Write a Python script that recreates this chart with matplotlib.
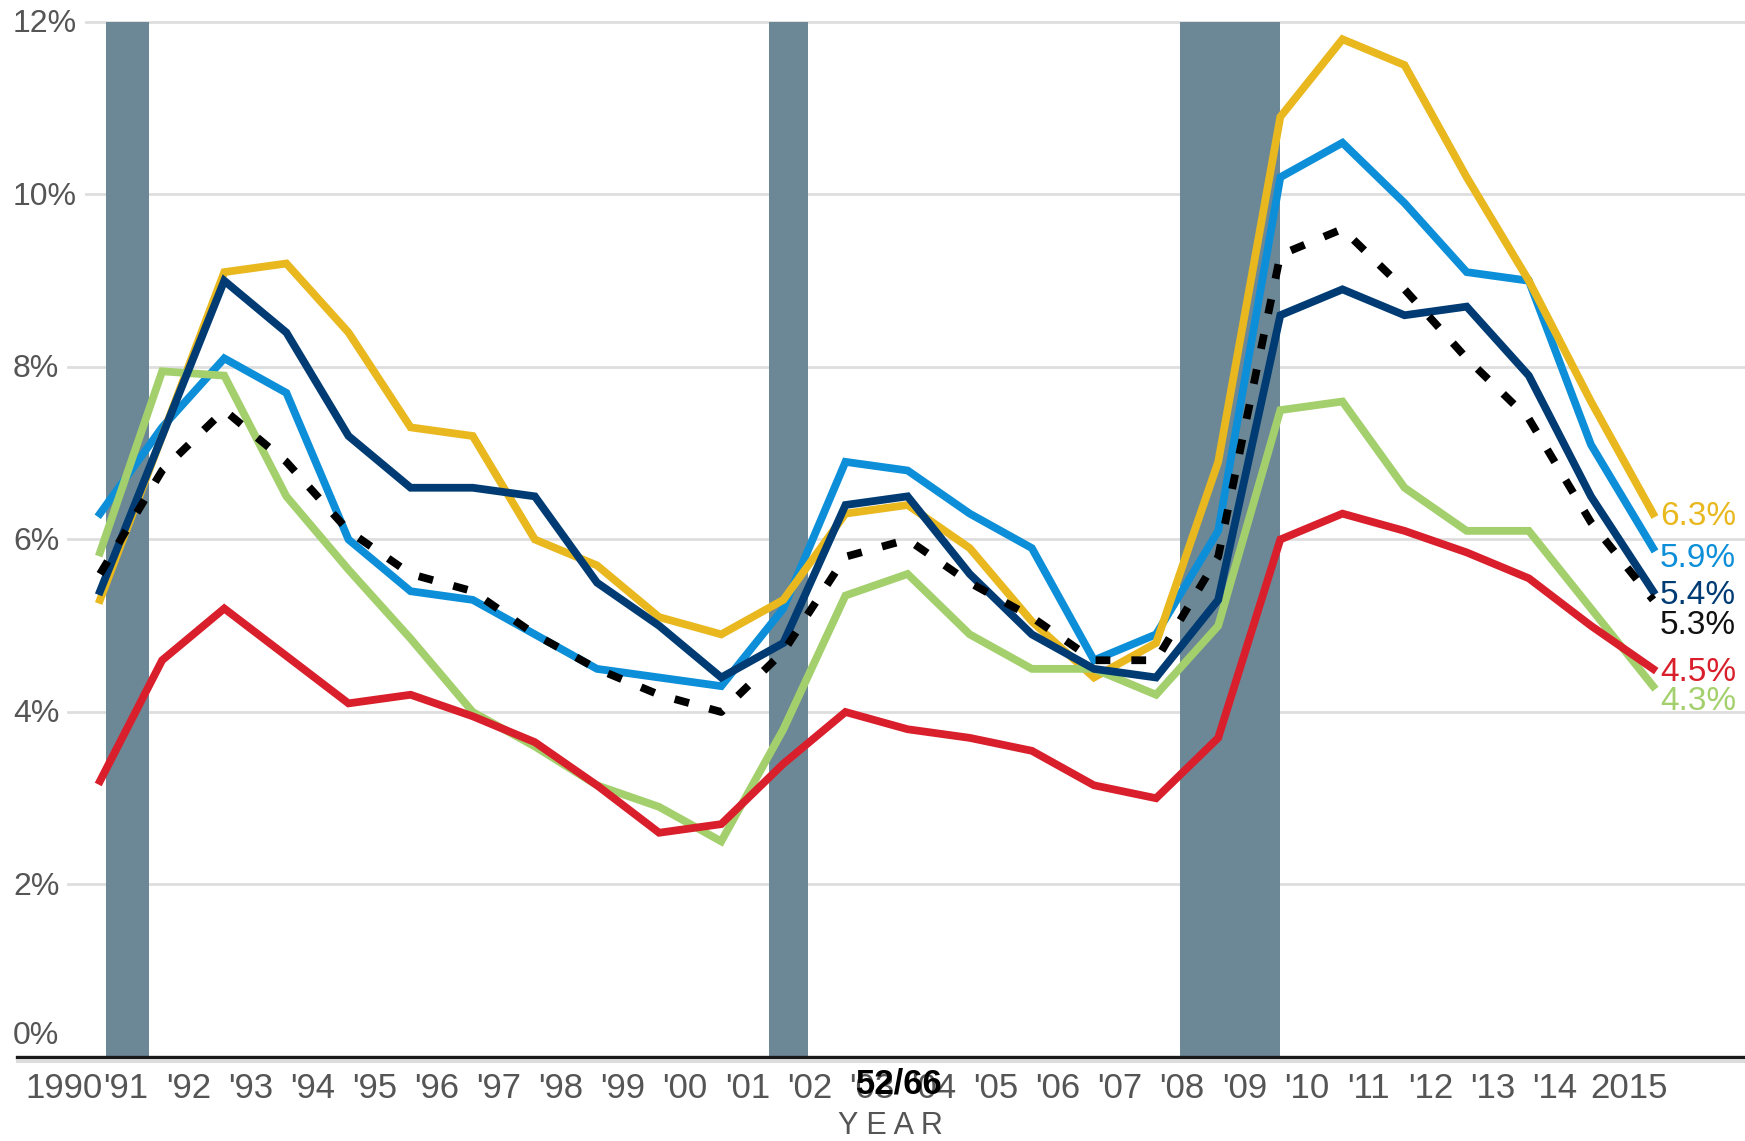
import matplotlib
matplotlib.use("Agg")
import matplotlib.pyplot as plt
from matplotlib import font_manager

# --- data (annual unemployment rate, %) ---
years = list(range(1990, 2016))
gold = [5.3, 7.2, 9.1, 9.2, 8.4, 7.3, 7.2, 6.0, 5.7, 5.1, 4.9, 5.3, 6.3, 6.4, 5.9, 5.05,
        4.4, 4.8, 6.9, 10.9, 11.8, 11.5, 10.2, 9.0, 7.6, 6.3]
blue = [6.3, 7.3, 8.1, 7.7, 6.0, 5.4, 5.3, 4.9, 4.5, 4.4, 4.3, 5.2, 6.9, 6.8, 6.3, 5.9,
        4.6, 4.9, 6.1, 10.2, 10.6, 9.9, 9.1, 9.0, 7.1, 5.9]
navy = [5.4, 7.2, 9.0, 8.4, 7.2, 6.6, 6.6, 6.5, 5.5, 5.0, 4.4, 4.8, 6.4, 6.5, 5.6, 4.9,
        4.5, 4.4, 5.3, 8.6, 8.9, 8.6, 8.7, 7.9, 6.5, 5.4]
overall = [5.6, 6.8, 7.5, 6.9, 6.1, 5.6, 5.4, 4.9, 4.5, 4.2, 4.0, 4.7, 5.8, 6.0, 5.5, 5.1,
           4.6, 4.6, 5.8, 9.3, 9.6, 8.9, 8.1, 7.4, 6.2, 5.3]
red = [3.2, 4.6, 5.2, 4.65, 4.1, 4.2, 3.95, 3.65, 3.15, 2.6, 2.7, 3.4, 4.0, 3.8, 3.7, 3.55,
       3.15, 3.0, 3.7, 6.0, 6.3, 6.1, 5.85, 5.55, 5.0, 4.5]
green = [5.85, 7.95, 7.9, 6.5, 5.65, 4.85, 4.0, 3.6, 3.15, 2.9, 2.5, 3.8, 5.35, 5.6, 4.9, 4.5,
         4.5, 4.2, 5.0, 7.5, 7.6, 6.6, 6.1, 6.1, 5.2, 4.3]

# recession periods (in chart year units)
recessions = [(1990.10, 1990.79), (2000.77, 2001.40), (2007.39, 2009.00)]

y_ticks = [0, 2, 4, 6, 8, 10, 12]
x_labels = ["1990"] + ["'%02d" % (y % 100) for y in years[1:-1]] + ["2015"]

# --- fonts ---
def pick_font(names):
    for n in names:
        try:
            font_manager.findfont(font_manager.FontProperties(family=n),
                                  fallback_to_default=False)
            return n
        except Exception:
            continue
    return "DejaVu Sans"

FONT = pick_font(["Liberation Sans Narrow", "Liberation Sans", "DejaVu Sans"])
plt.rcParams["font.family"] = [FONT, "DejaVu Sans"]

TEXT_GRAY = "#555555"
C_GOLD = "#E8B81E"
C_BLUE = "#0C8FD8"
C_NAVY = "#003B73"
C_RED = "#D91F2B"
C_GREEN = "#A3D06C"
C_BAR = "#6C8896"

W, H = 1745, 1141
fig = plt.figure(figsize=(W / 100, H / 100), dpi=100)
ax = fig.add_axes([0, 84 / H, 1, 1057 / H])
ax.set_xlim(1988.39, 2016.48)
ax.set_ylim(0, 12.255)
ax.axis("off")

# recession bars
for start, end in recessions:
    ax.axvspan(start, end, ymin=0, ymax=12 / 12.255, color=C_BAR, lw=0, zorder=2)

# series
lw = 5.6
ax.plot(years, blue, color=C_BLUE, lw=lw, zorder=3, solid_joinstyle="miter")
ax.plot(years, gold, color=C_GOLD, lw=lw, zorder=4, solid_joinstyle="miter")
ax.plot(years, green, color=C_GREEN, lw=lw, zorder=5, solid_joinstyle="miter")
ax.plot(years, red, color=C_RED, lw=lw, zorder=6, solid_joinstyle="miter")
ax.plot(years, navy, color=C_NAVY, lw=lw, zorder=7, solid_joinstyle="miter")
ax.plot(years, overall, color="black", lw=lw, zorder=8,
        linestyle=(0, (1.9, 2.7)), dash_capstyle="butt")

# y labels (left aligned, inside the plot) + gridlines starting after them
fig.canvas.draw()
renderer = fig.canvas.get_renderer()
for v in y_ticks:
    dy = 9 if v == 0 else -7.5
    t = ax.annotate(f"{v}%", xy=(13 / W, v), xycoords=("axes fraction", "data"),
                    xytext=(0, dy), textcoords="offset points",
                    ha="left", va="baseline", fontsize=23, color=TEXT_GRAY, zorder=9)
    if v > 0:
        bb = t.get_window_extent(renderer)
        ax.axhline(v, xmin=(bb.x1 + 9) / W, xmax=1, color="#DEDEDE", lw=2, zorder=1)

# x axis line
ax.axhline(0, xmin=17 / W, xmax=1, color="#1a1a1a", lw=2.4, zorder=9, clip_on=False)
ax.axhline(-4 / 86.25, xmin=17 / W, xmax=1, color="#DDDDDD", lw=2.2, zorder=1,
           clip_on=False)

# year labels
for i, (yr, lab) in enumerate(zip(years, x_labels)):
    pos = yr - 0.58 + (0.2 if i == len(years) - 1 else 0)
    ax.annotate(lab, xy=(pos, 0), xycoords=("data", "axes fraction"),
                xytext=(0, -29.5), textcoords="offset points",
                ha="center", va="baseline", fontsize=25, color=TEXT_GRAY)

fig.text(890 / W, 7 / H, "Y E A R", ha="center", va="baseline",
         fontsize=22, color=TEXT_GRAY)

# end-of-line value labels
end_series = [(gold, C_GOLD, 6.3), (blue, C_BLUE, 5.81), (navy, C_NAVY, 5.38),
              (overall, "#111111", 5.03), (red, C_RED, 4.49), (green, C_GREEN, 4.15)]
for vals, col, ly in end_series:
    ax.annotate(f"{vals[-1]:.1f}%", xy=(2015.11, ly), xycoords="data",
                xytext=(0, -8), textcoords="offset points",
                ha="left", va="baseline", fontsize=24, color=col, zorder=9,
                annotation_clip=False)

# page marker overlay present in the source image
fig.text(899 / W, 1 - 1094 / H, "52/66", ha="center", va="baseline",
         fontsize=25, fontweight="bold", color="black", zorder=20)

fig.savefig("out.png", dpi=100)
